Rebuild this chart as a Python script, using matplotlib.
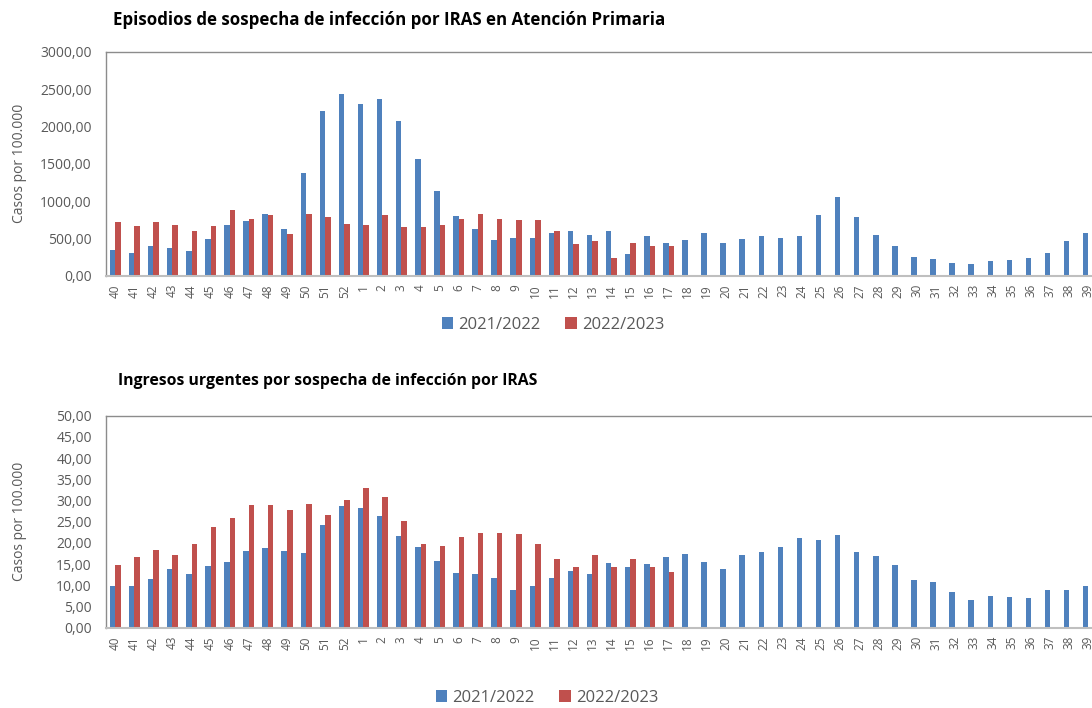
import numpy as np
import matplotlib
matplotlib.use("Agg")
import matplotlib.pyplot as plt
from matplotlib.ticker import FuncFormatter, MultipleLocator

plt.rcParams['font.family'] = ['Open Sans', 'DejaVu Sans']

weeks = [40, 41, 42, 43, 44, 45, 46, 47, 48, 49, 50, 51, 52,
         1, 2, 3, 4, 5, 6, 7, 8, 9, 10, 11, 12, 13, 14, 15, 16, 17, 18, 19, 20,
         21, 22, 23, 24, 25, 26, 27, 28, 29, 30, 31, 32, 33, 34, 35, 36, 37, 38, 39]
series_names = ["2021/2022", "2022/2023"]

# Episodios de sospecha en Atención Primaria
ap_2122 = [344, 308, 393, 375, 326, 491, 679, 728, 830, 629, 1370, 2201, 2433,
           2299, 2366, 2067, 1558, 1134, 799, 629, 478, 509, 509, 576, 594, 545,
           594, 290, 527, 442, 478, 576, 442, 491, 527, 509, 527, 812, 1049, 781,
           545, 393, 254, 223, 174, 156, 192, 205, 241, 308, 460, 576]
ap_2223 = [714, 661, 714, 679, 594, 661, 879, 763, 812, 562, 830, 781, 696,
           679, 812, 647, 647, 679, 763, 830, 763, 745, 745, 594, 424, 460,
           241, 442, 393, 393] + [np.nan] * 22

# Ingresos urgentes
ing_2122 = [9.75, 9.9, 11.56, 13.92, 12.66, 14.47, 15.57, 18.16, 18.87, 18.16,
            17.61, 24.21, 28.62, 28.30, 26.42, 21.62, 19.03, 15.72, 12.97, 12.66,
            11.71, 8.8, 9.9, 11.71, 13.37, 12.66, 15.17, 14.31, 15.02, 16.67,
            17.38, 15.57, 13.76, 17.06, 17.77, 18.95, 21.15, 20.6, 21.86, 17.77,
            16.9, 14.86, 11.16, 10.77, 8.41, 6.45, 7.47, 7.31, 7.0, 8.8, 8.8, 9.75]
ing_2223 = [14.86, 16.67, 18.32, 17.06, 19.81, 23.82, 25.87, 29.01, 28.85, 27.75,
            29.17, 26.57, 30.03, 32.86, 30.82, 25.08, 19.81, 19.26, 21.46, 22.41,
            22.25, 22.01, 19.81, 16.12, 14.31, 17.22, 14.31, 16.12, 14.31,
            13.05] + [np.nan] * 22

BLUE = "#4F81BD"
RED = "#C0504D"
GRAY_TXT = "#595959"

fig = plt.figure(figsize=(10.92, 7.08), dpi=100)

def comma_fmt(v, pos):
    return f"{v:.2f}".replace(".", ",")

left_px = 105.7
right_px = 1098.0

def draw(ax, a, b, ymax, ystep, title, title_x, title_y, title_size, leg_x, leg_y):
    x = np.arange(len(weeks))
    bw = 0.29
    ax.bar(x - bw / 2, a, bw, color=BLUE, label=series_names[0])
    ax.bar(x + bw / 2, b, bw, color=RED, label=series_names[1])
    ax.set_xlim(-0.5, len(weeks) - 0.5)
    ax.set_ylim(0, ymax)
    ax.yaxis.set_major_locator(MultipleLocator(ystep))
    ax.yaxis.set_major_formatter(FuncFormatter(comma_fmt))
    ax.set_xticks(x)
    ax.set_xticklabels([str(w) for w in weeks], rotation=90, fontsize=8.5,
                       color=GRAY_TXT)
    ax.tick_params(axis='x', length=0, pad=6)
    ax.tick_params(axis='y', length=0, pad=10, labelsize=10, colors=GRAY_TXT)
    for s in ['top', 'left', 'right']:
        ax.spines[s].set_color("#8C8C8C")
        ax.spines[s].set_linewidth(1.0)
    ax.spines['bottom'].set_color("#BFBFBF")
    ax.spines['bottom'].set_linewidth(1.5)
    ax.set_ylabel("Casos por 100.000", fontsize=10, color=GRAY_TXT)
    ax.yaxis.set_label_coords((27 - left_px) / (right_px - left_px), 0.5)
    fig.text(title_x, title_y, title, fontsize=title_size, fontweight='bold',
             color='black', ha='left', va='center')
    ax.legend(loc='center', bbox_to_anchor=(leg_x, leg_y),
              bbox_transform=fig.transFigure, ncol=2, frameon=False,
              fontsize=12, labelcolor=GRAY_TXT, handlelength=0.7,
              handleheight=0.7, handletextpad=0.3, columnspacing=1.5,
              borderpad=0.2)

left = left_px / 1092
width = (right_px - left_px) / 1092
ax1 = fig.add_axes([left, 1 - 275.7 / 708, width, 224 / 708])
draw(ax1, ap_2122, ap_2223, 3000, 500,
     "Episodios de sospecha de infección por IRAS en Atención Primaria",
     113 / 1092, 1 - 20 / 708, 12.2, 553 / 1092, 1 - 325 / 708)

ax2 = fig.add_axes([left, 1 - 627.7 / 708, width, 212 / 708])
draw(ax2, ing_2122, ing_2223, 50, 5,
     "Ingresos urgentes por sospecha de infección por IRAS",
     118 / 1092, 1 - 381 / 708, 11.3, 547 / 1092, 1 - 698 / 708)

fig.savefig("out.png", dpi=100)
